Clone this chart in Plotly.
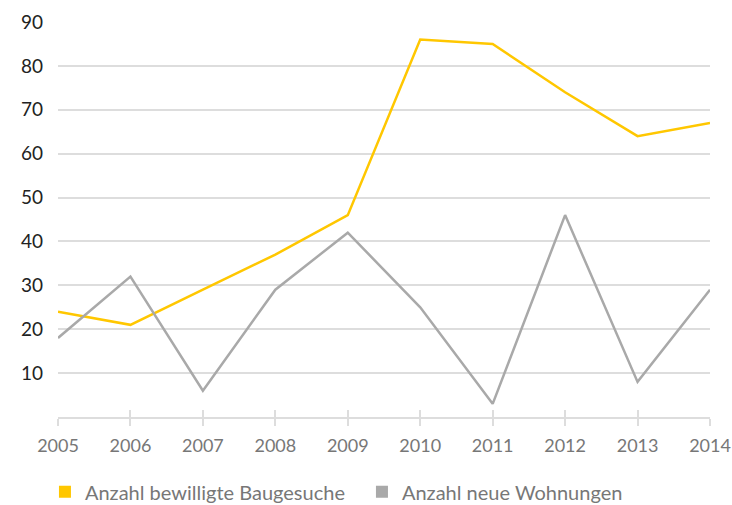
import plotly.graph_objects as go

years = [2005, 2006, 2007, 2008, 2009, 2010, 2011, 2012, 2013, 2014]
baugesuche = [24, 21, 29, 37, 46, 86, 85, 74, 64, 67]
wohnungen = [18, 32, 6, 29, 42, 25, 3, 46, 8, 29]
y_ticks = [10, 20, 30, 40, 50, 60, 70, 80, 90]
name_baugesuche = "Anzahl bewilligte Baugesuche"
name_wohnungen = "Anzahl neue Wohnungen"

YELLOW = "#FFC700"
GREY = "#A9A9A9"
FONT = "Lato"

fig = go.Figure()

fig.add_trace(go.Scatter(x=years, y=baugesuche, mode="lines",
                         line=dict(color=YELLOW, width=2.5),
                         showlegend=False))
fig.add_trace(go.Scatter(x=years, y=wohnungen, mode="lines",
                         line=dict(color=GREY, width=2.5),
                         showlegend=False))

# legend entries drawn as square swatches
for name, color in [(name_baugesuche, YELLOW), (name_wohnungen, GREY)]:
    fig.add_trace(go.Scatter(x=[None], y=[None], mode="markers", name=name,
                             marker=dict(symbol="square", size=14, color=color)))

fig.update_layout(
    width=732, height=505,
    margin=dict(l=58, r=22, t=22, b=88, autoexpand=False),
    paper_bgcolor="white", plot_bgcolor="white",
    font=dict(family=FONT),
    xaxis=dict(range=[2005, 2014], tickvals=years, showgrid=False,
               zeroline=False, showline=True, linecolor="#DDDDDD", linewidth=2,
               ticks="outside", ticklen=7, tickwidth=2, tickcolor="#DDDDDD",
               tickfont=dict(size=18, color="#777777", family=FONT),
               ticklabelstandoff=4, automargin=False),
    xaxis2=dict(range=[2005, 2014], tickvals=years, overlaying="x",
                side="bottom", showgrid=False, zeroline=False,
                showticklabels=False, ticks="inside", ticklen=7, tickwidth=2,
                tickcolor="#DDDDDD", automargin=False),
    yaxis=dict(range=[0, 90], tickvals=y_ticks, showgrid=True,
               gridcolor="#DDDDDD", gridwidth=1.5, zeroline=False,
               showline=False, ticks="", ticklen=0,
               tickfont=dict(size=19, color="#222222", family=FONT),
               ticklabelstandoff=14, automargin=False),
    legend=dict(orientation="h", x=-0.02, y=-0.14, xanchor="left", yanchor="top",
                xref="paper", entrywidth=272,
                font=dict(size=20, color="#777777", family=FONT),
                itemsizing="constant"),
)

# dummy trace so the overlaid axis is drawn
fig.add_trace(go.Scatter(x=[None], y=[None], xaxis="x2", showlegend=False))

fig.write_html("out.html")
